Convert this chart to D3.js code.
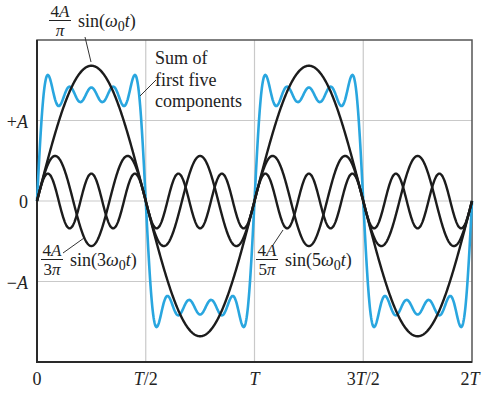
<!DOCTYPE html>
<html>
<head>
<meta charset="utf-8">
<script src="https://cdn.jsdelivr.net/npm/d3@7"></script>
<style>
  body { margin: 0; background: #fff; }
  text { font-family: "Liberation Serif", "Times New Roman", serif; fill: #222; }
</style>
</head>
<body>
<script>
"use strict";

// odd harmonics of the square wave, and their peak heights (in units of A)
const harmonics = [1, 3, 5, 7, 9];
const peaks = [1.68, 0.56, 0.34, 0.24, 0.19];
// which harmonics are drawn on their own in black
const shown = [1, 3, 5];

const xTicks = [0, 0.5, 1, 1.5, 2];
const xTickLabels = ["0", "T/2", "T", "3T/2", "2T"];
const yTicks = [1, 0, -1];
const yTickLabels = ["+A", "0", "\u2212A"];

const width = 486, height = 394;

let svg = d3.select("body")
  .append("svg")
  .attr("width", width)
  .attr("height", height);

let x = d3.scaleLinear().domain([0, 2]).range([37, 472]);
let y = d3.scaleLinear().domain([-2, 2]).range([362, 40]);

// grid
svg.append("g")
  .selectAll("line.v")
  .data(xTicks.slice(1, -1))
  .enter()
  .append("line")
  .attr("x1", d => x(d)).attr("x2", d => x(d))
  .attr("y1", y(2)).attr("y2", y(-2))
  .attr("stroke", "#c9c9c9").attr("stroke-width", 1.2);

svg.append("g")
  .selectAll("line.h")
  .data(yTicks)
  .enter()
  .append("line")
  .attr("x1", x(0)).attr("x2", x(2))
  .attr("y1", d => y(d)).attr("y2", d => y(d))
  .attr("stroke", "#c9c9c9").attr("stroke-width", 1.2);

// frame
svg.append("rect")
  .attr("x", x(0)).attr("y", y(2))
  .attr("width", x(2) - x(0)).attr("height", y(-2) - y(2))
  .attr("fill", "none").attr("stroke", "#555").attr("stroke-width", 1.5);
svg.append("path")
  .attr("d", `M${x(0)},${y(2)}V${y(-2)}H${x(2)}`)
  .attr("fill", "none").attr("stroke", "#2a2a2a").attr("stroke-width", 2);

// curves
const ts = d3.range(0, 2.0005, 0.002);
const comp = (n, t) => peaks[harmonics.indexOf(n)] * Math.sin(2 * Math.PI * n * t);
let line = d3.line().x(d => x(d[0])).y(d => y(d[1]));

let sum = ts.map(t => [t, d3.sum(harmonics, n => comp(n, t))]);
svg.append("path")
  .datum(sum)
  .attr("d", line)
  .attr("fill", "none")
  .attr("stroke", "#29a6df")
  .attr("stroke-width", 2.6);

svg.append("g")
  .selectAll("path")
  .data(shown)
  .enter()
  .append("path")
  .attr("d", n => line(ts.map(t => [t, comp(n, t)])))
  .attr("fill", "none")
  .attr("stroke", "#1c1c1c")
  .attr("stroke-width", 2.4);

// tick labels
svg.append("g")
  .selectAll("text")
  .data(xTicks)
  .enter()
  .append("text")
  .attr("x", (d, i) => x(d) + (i === xTicks.length - 1 ? -2 : 0))
  .attr("y", 385)
  .attr("text-anchor", "middle")
  .attr("font-size", 18)
  .html((d, i) => xTickLabels[i].replace(/T/g, '<tspan font-style="italic">T</tspan>'));

svg.append("g")
  .selectAll("text")
  .data(yTicks)
  .enter()
  .append("text")
  .attr("x", 28)
  .attr("y", d => y(d) + 7)
  .attr("text-anchor", "end")
  .attr("font-size", 18)
  .html((d, i) => yTickLabels[i].replace(/A/g, '<tspan font-style="italic">A</tspan>'));

// annotations
function fracLabel(cx, top, denom, fn) {
  let g = svg.append("g");
  g.append("text")
    .attr("x", cx).attr("y", top + 7)
    .attr("text-anchor", "middle").attr("font-size", 17)
    .html('4<tspan font-style="italic">A</tspan>');
  g.append("line")
    .attr("x1", cx - 11).attr("x2", cx + 11)
    .attr("y1", top + 10.5).attr("y2", top + 10.5)
    .attr("stroke", "#222").attr("stroke-width", 1);
  g.append("text")
    .attr("x", cx).attr("y", top + 26)
    .attr("text-anchor", "middle").attr("font-size", 17)
    .html(denom + '<tspan font-style="italic">\u03c0</tspan>');
  g.append("text")
    .attr("x", cx + 18).attr("y", top + 17)
    .attr("font-size", 18)
    .html('sin(' + fn + '<tspan font-style="italic">\u03c9</tspan><tspan font-size="14" dy="4">0</tspan><tspan font-style="italic" dy="-4">t</tspan>)');
}

fracLabel(60, 10, "", "");
fracLabel(52, 249, "3", "3");
fracLabel(267, 249, "5", "5");

let sumText = svg.append("text").attr("font-size", 18);
["Sum of", "first five", "components"].forEach((s, i) => {
  sumText.append("tspan").attr("x", 155).attr("y", 64 + i * 21.5).text(s);
});

const leaders = [
  [[85, 37], [91, 62]],
  [[156, 80], [140, 96]],
  [[63, 253], [84, 238]],
  [[273, 245], [283, 230]]
];
svg.append("g")
  .selectAll("line")
  .data(leaders)
  .enter()
  .append("line")
  .attr("x1", d => d[0][0]).attr("y1", d => d[0][1])
  .attr("x2", d => d[1][0]).attr("y2", d => d[1][1])
  .attr("stroke", "#333").attr("stroke-width", 1);
</script>
</body>
</html>
